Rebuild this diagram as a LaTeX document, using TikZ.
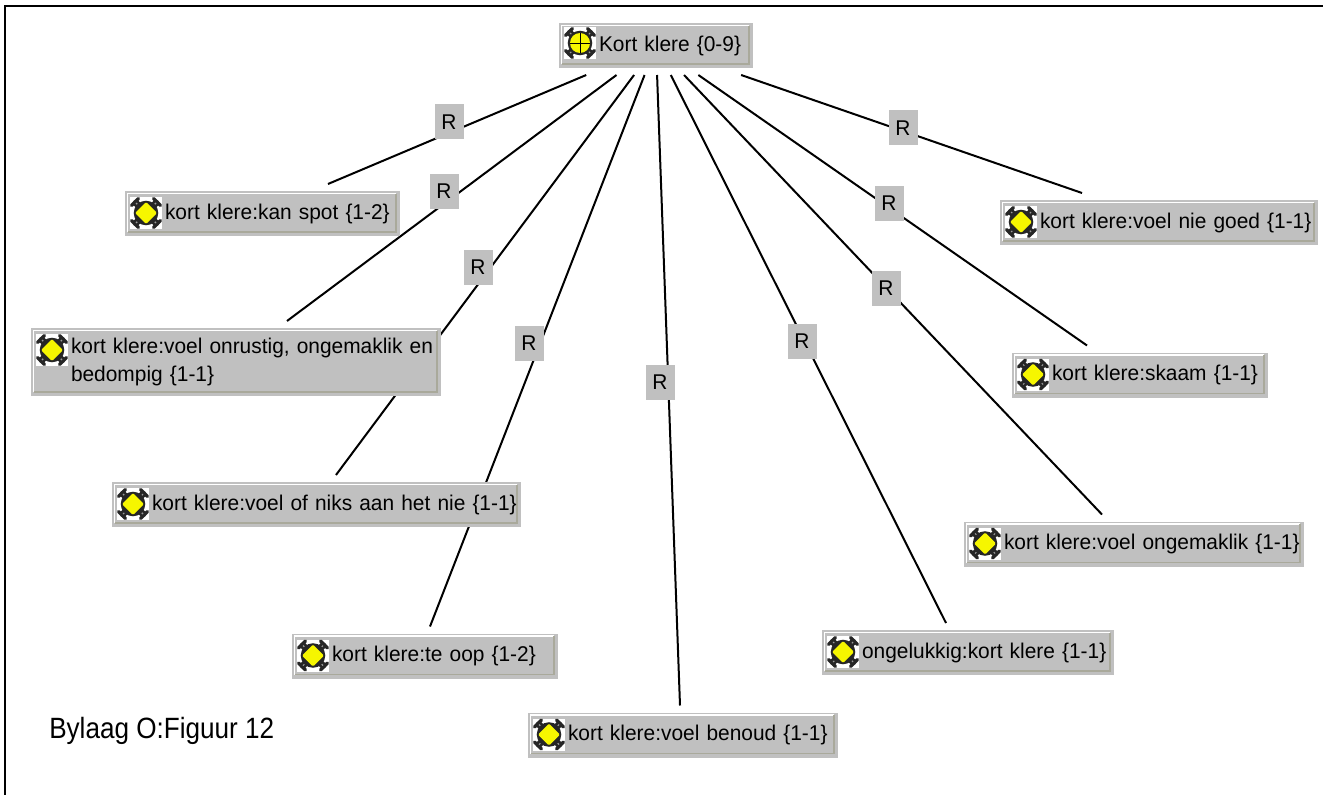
\documentclass[tikz,border=0pt]{standalone}
\usepackage{fontspec}
\setmainfont{Liberation Sans}
\newfontfamily\klfont[FakeStretch=0.98]{Liberation Sans}
\newfontfamily\bylaagfont[FakeStretch=0.89]{Liberation Sans}
\usetikzlibrary{backgrounds}
\definecolor{klgray}{HTML}{C0C0C0}
\definecolor{kltan}{HTML}{A9A99B}
\definecolor{klyellow}{HTML}{F6F600}
\newcommand{\klbevel}{
	\draw[white,line width=1pt] ([shift={(1.9pt,3pt)}]path picture bounding box.south west) -- ([shift={(1.9pt,-1.9pt)}]path picture bounding box.north west) -- ([shift={(-3pt,-1.9pt)}]path picture bounding box.north east);
	\draw[kltan,line width=1pt] ([shift={(1.9pt,3pt)}]path picture bounding box.south west) -- ([shift={(-3pt,3pt)}]path picture bounding box.south east) -- ([shift={(-3pt,-1.9pt)}]path picture bounding box.north east);
}
\newcommand{\klicon}{
	\fill[white] (0,0) rectangle (32,32);
	\foreach \a/\b in {6/6,26/6,6/26,26/26}{
		\draw[black!85,line width=4.8pt,line cap=round] (16,16) -- (\a,\b);
		\draw[black!85,line width=2.6pt,line cap=round] ({\a+(\a-16)*0.1-(\b-16)*0.35},{\b+(\b-16)*0.1+(\a-16)*0.35}) -- ({\a+(\a-16)*0.1+(\b-16)*0.35},{\b+(\b-16)*0.1-(\a-16)*0.35});
		\draw[black!40,line width=.8pt] (16,16) -- (\a,\b);
	}
	\fill[black!85] (16,16) circle (9.2pt);
}
\tikzset{
	klbox/.style={rectangle,fill=klgray,inner sep=0pt,outer sep=5.25pt,minimum height=33.75pt,text width=#1,align=left,
		font=\klfont\fontsize{16}{21.5}\selectfont,execute at begin node={\leftskip=30pt},
		path picture={\klbevel}},
	klrel/.style={rectangle,fill=klgray,inner sep=0pt,minimum width=21.75pt,minimum height=26.25pt,font=\klfont\fontsize{16}{20}\selectfont},
	kllink/.style={black,line width=1.5pt},
	klmark/.pic={\klicon
		\fill[klyellow,rounded corners=1pt] (16,5) -- (27,16) -- (16,27) -- (5,16) -- cycle;},
	klrootmark/.pic={\klicon
		\fill[klyellow] (16,16) circle (7.5pt);
		\draw[black,line width=.7pt] (6,16) -- (26,16) (16,6) -- (16,26);}
}
\begin{document}
\begin{tikzpicture}[x=0.75pt,y=-0.75pt]
	\useasboundingbox (0,0) rectangle (1323,795);
	\draw[black,line width=1.6pt] (5,795) -- (5,6) -- (1323,6);

	\node[klbox=145.5pt] (kort) at (656,45.5) {Kort klere \{0-9\}};
	\node[klbox=206.25pt] (kanspot) at (262.5,213.5) {kort klere:kan spot \{1-2\}};
	\node[klbox=307.5pt,minimum height=51pt] (onrustig) at (236,362) {kort klere:voel onrustig, ongemaklik en\\bedompig \{1-1\}};
	\node[klbox=306.75pt] (ofniks) at (316.5,504.5) {kort klere:voel of niks aan het nie \{1-1\}};
	\node[klbox=199.5pt] (teoop) at (425,656) {kort klere:te oop \{1-2\}};
	\node[klbox=232.5pt] (benoud) at (683,735) {kort klere:voel benoud \{1-1\}};
	\node[klbox=219pt] (ongelukkig) at (968,652.5) {ongelukkig:kort klere \{1-1\}};
	\node[klbox=255pt] (ongemaklik) at (1134,544) {kort klere:voel ongemaklik \{1-1\}};
	\node[klbox=192pt] (skaam) at (1140,375) {kort klere:skaam \{1-1\}};
	\node[klbox=238.5pt] (niegoed) at (1159,222.5) {kort klere:voel nie goed \{1-1\}};

	\pic at ([shift={(9pt,-8.25pt)}]kort.north west) {klrootmark};
	\foreach \kl in {kanspot,onrustig,ofniks,teoop,benoud,ongelukkig,ongemaklik,skaam,niegoed}
		\pic at ([shift={(9pt,-9.75pt)}]\kl.north west) {klmark};

	\node[klrel] (r1) at (449,122) {R};
	\node[klrel] (r2) at (444,191) {R};
	\node[klrel] (r3) at (478,267) {R};
	\node[klrel] (r4) at (529,343) {R};
	\node[klrel] (r5) at (660,382) {R};
	\node[klrel] (r6) at (802,341) {R};
	\node[klrel] (r7) at (886,288) {R};
	\node[klrel] (r8) at (889,203) {R};
	\node[klrel] (r9) at (903,128) {R};

	\node[anchor=west,inner sep=0pt,font=\bylaagfont\fontsize{22}{26}\selectfont] (bylaag) at (49,731) {Bylaag O:Figuur 12};

	\begin{pgfonlayer}{background}
		\draw[kllink] (kort) -- ([xshift=49.1pt]kanspot.north);
		\draw[kllink] (kort) -- ([xshift=38.25pt]onrustig.north);
		\draw[kllink] (kort) -- ([xshift=14.6pt]ofniks.north);
		\draw[kllink] (kort) -- ([xshift=3.75pt]teoop.north);
		\draw[kllink] (kort) -- ([xshift=-2.25pt]benoud.north);
		\draw[kllink] (kort) -- ([xshift=-16.5pt]ongelukkig.north);
		\draw[kllink] (kort) -- ([xshift=-24pt]ongemaklik.north);
		\draw[kllink] (kort) -- ([xshift=-39.75pt]skaam.north);
		\draw[kllink] (kort) -- ([xshift=-57.75pt]niegoed.north);
	\end{pgfonlayer}
\end{tikzpicture}
\end{document}
